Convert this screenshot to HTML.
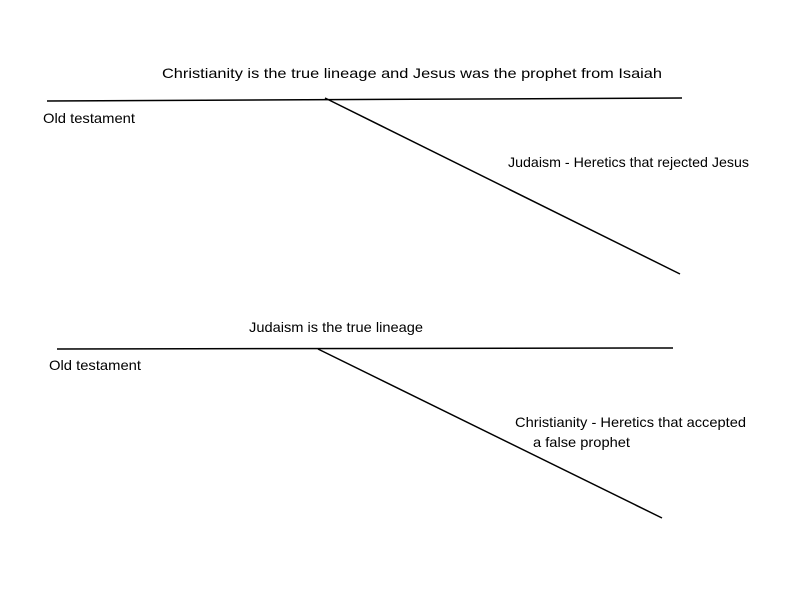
<!DOCTYPE html>
<html><head><style>html,body{margin:0;padding:0;background:#fff;}svg{display:block}</style></head>
<body>
<svg width="800" height="600" xmlns="http://www.w3.org/2000/svg" font-family="Liberation Sans, sans-serif" font-size="14" fill="#000">
<rect width="800" height="600" fill="#fff"/>
<g stroke="#000" stroke-width="1.5" fill="none">
<line x1="47" y1="101" x2="682" y2="98"/>
<line x1="325" y1="98" x2="680" y2="274"/>
<line x1="57" y1="349" x2="673" y2="348"/>
<line x1="318" y1="349" x2="662" y2="518"/>
</g>
<text x="162" y="78" textLength="500" lengthAdjust="spacingAndGlyphs">Christianity is the true lineage and Jesus was the prophet from Isaiah</text>
<text x="43" y="123" textLength="92" lengthAdjust="spacingAndGlyphs">Old testament</text>
<text x="508" y="167" textLength="241" lengthAdjust="spacingAndGlyphs">Judaism - Heretics that rejected Jesus</text>
<text x="249" y="332" textLength="174" lengthAdjust="spacingAndGlyphs">Judaism is the true lineage</text>
<text x="49" y="370" textLength="92" lengthAdjust="spacingAndGlyphs">Old testament</text>
<text x="515" y="427" textLength="231" lengthAdjust="spacingAndGlyphs">Christianity - Heretics that accepted</text>
<text x="533" y="447" textLength="97" lengthAdjust="spacingAndGlyphs">a false prophet</text>
</svg>
</body></html>
